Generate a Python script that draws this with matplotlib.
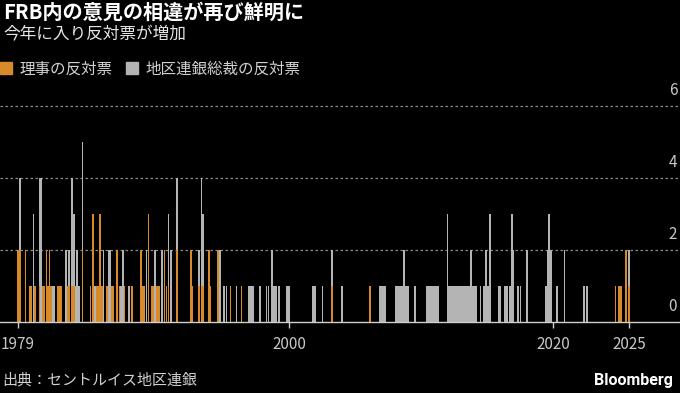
import matplotlib
matplotlib.use("Agg")
import matplotlib.pyplot as plt
from matplotlib.patches import Patch

plt.rcParams['font.family'] = ['Noto Sans CJK JP', 'DejaVu Sans']

# Meeting dates (decimal years), governor dissents, regional-bank-president dissents
dates = [
    1979.45, 1979.60, 1980.04, 1980.38, 1980.49, 1980.64, 1980.76,
    1981.12, 1981.24, 1981.36, 1981.48, 1981.63, 1981.75, 1981.87, 1981.99, 1982.11, 1982.20,
    1982.53, 1982.65, 1982.77, 1983.10,
    1983.25, 1983.36, 1983.55, 1983.72, 1983.84, 1983.96, 1984.08, 1984.36,
    1984.97, 1985.18, 1985.32, 1985.44, 1985.56, 1985.70, 1985.83, 1985.94,
    1986.22, 1986.34, 1986.46, 1986.58, 1986.70, 1986.98,
    1987.18, 1987.30, 1987.42, 1987.54, 1987.88, 1988.12,
    1988.79, 1988.94, 1989.06, 1989.20, 1989.36,
    1989.60, 1989.72, 1989.84, 1989.96, 1990.08, 1990.20, 1990.40, 1990.58, 1990.72, 1990.88, 1991.06,
    1991.52, 1992.58, 1992.70, 1993.18, 1993.38, 1993.50, 1993.94, 1994.06,
    1994.62, 1994.77, 1995.08, 1995.27, 1995.57, 1996.02, 1996.40,
    1996.97, 1997.12, 1997.27, 1997.80, 1998.30, 1998.45, 1998.71, 1998.86, 1999.00, 1999.24,
    1999.85, 2000.00, 2001.82, 2001.97, 2002.55, 2003.26, 2004.02, 2006.14,
    2006.92, 2007.05, 2007.18, 2007.31,
    2008.12, 2008.26, 2008.40, 2008.56, 2008.71, 2008.86, 2009.00, 2009.55,
    2010.47, 2010.59, 2010.71, 2010.83, 2010.95, 2011.07, 2011.19, 2011.31,
    2012.00, 2012.12, 2012.25, 2012.38, 2012.51, 2012.64, 2012.77, 2012.90,
    2013.03, 2013.16, 2013.29, 2013.42, 2013.55, 2013.68, 2013.80, 2013.94, 2014.07, 2014.20,
    2014.50, 2014.78, 2014.93, 2015.08, 2015.22, 2015.87, 2016.00, 2016.38, 2016.52,
    2016.74, 2016.88, 2017.00, 2017.36, 2017.54, 2018.04,
    2019.45, 2019.60, 2019.72, 2019.85, 2020.30, 2020.88, 2022.35, 2022.57,
    2024.73, 2024.98, 2025.14, 2025.55, 2025.75,
]
governors = [
    2, 2, 2, 1, 1, 0, 1,
    1, 0, 1, 1, 2, 1, 2, 1, 0, 0,
    1, 1, 1, 0,
    1, 1, 1, 1, 0, 0, 0, 2,
    1, 3, 0, 1, 1, 3, 1, 0,
    1, 0, 0, 1, 1, 2,
    1, 0, 0, 1, 0, 1,
    2, 1, 1, 0, 3,
    1, 1, 0, 1, 1, 1, 0, 2, 1, 1, 0,
    2, 2, 1, 1, 1, 1, 2, 1,
    2, 0, 0, 0, 1, 0, 1,
    0, 0, 0, 0, 0, 0, 0, 0, 0, 0,
    0, 0, 0, 0, 0, 1, 0, 1,
    0, 0, 0, 0,
    0, 0, 0, 0, 0, 0, 0, 0,
    0, 0, 0, 0, 0, 0, 0, 0,
    0, 0, 0, 0, 0, 0, 0, 0,
    0, 0, 0, 0, 0, 0, 0, 0, 0, 0,
    0, 0, 0, 0, 0, 0, 0, 0, 0,
    0, 0, 0, 0, 0, 0,
    0, 0, 0, 0, 0, 0, 0, 0,
    1, 1, 1, 2, 1,
]
presidents = [
    0, 2, 0, 0, 0, 3, 0,
    3, 4, 0, 0, 0, 0, 0, 0, 1, 1,
    0, 0, 0, 2,
    0, 1, 3, 2, 1, 2, 1, 3,
    0, 0, 1, 0, 0, 0, 0, 2,
    0, 2, 2, 0, 0, 0,
    0, 1, 2, 0, 1, 0,
    0, 0, 0, 2, 0,
    0, 0, 2, 0, 0, 0, 2, 0, 0, 2, 2,
    2, 0, 0, 1, 3, 2, 0, 0,
    0, 2, 1, 1, 0, 1, 0,
    1, 1, 1, 1, 1, 1, 2, 1, 1, 1,
    1, 1, 1, 1, 1, 1, 1, 0,
    1, 1, 1, 1,
    1, 1, 1, 1, 2, 1, 1, 1,
    1, 1, 1, 1, 1, 1, 1, 1,
    3, 1, 1, 1, 1, 1, 1, 1,
    1, 1, 1, 1, 1, 1, 2, 1, 1, 1,
    1, 1, 2, 1, 3, 1, 1, 1, 1,
    1, 3, 2, 1, 1, 2,
    1, 2, 3, 2, 1, 2, 1, 1,
    0, 0, 0, 0, 1,
]

x_ticks = [1979.47, 2000, 2020, 2025.78]
x_tick_labels = ['1979', '2000', '2020', '2025']
y_ticks = [0, 2, 4, 6]

title = 'FRB内の意見の相違が再び鮮明に'
subtitle = '今年に入り反対票が増加'
legend_labels = ['理事の反対票', '地区連銀総裁の反対票']
source = '出典：セントルイス地区連銀'

ORANGE = '#d8892a'
GRAY = '#b4b4b4'
BG = '#000000'

fig = plt.figure(figsize=(6.8, 3.93), dpi=100, facecolor=BG)
ax = fig.add_axes([0.0, 1 - 322 / 393, 1.0, (322 - 106) / 393], facecolor=BG)

width = 0.13
ax.bar(dates, governors, width=width, color=ORANGE, linewidth=0, align='center')
ax.bar(dates, presidents, width=width, bottom=governors, color=GRAY, linewidth=0, align='center')

ax.set_xlim(1978.11, 2029.62)
ax.set_ylim(0, 6)

for s in ['top', 'right', 'left']:
    ax.spines[s].set_visible(False)
ax.spines['bottom'].set_color('#cfcfcf')
ax.spines['bottom'].set_linewidth(1.0)

ax.set_yticks(y_ticks)
ax.set_yticklabels([])
ax.tick_params(axis='y', length=0)
for v in y_ticks:
    if v > 0:
        ax.axhline(v, color='#8a8a8a', linestyle=(0, (2, 2)), linewidth=0.9, zorder=0.5, clip_on=False)
    ax.annotate(str(v), xy=(1, v), xycoords=ax.get_yaxis_transform(),
                xytext=(-2, 5), textcoords='offset points', ha='right', va='bottom',
                color='#c8c8c8', fontsize=11)

ax.set_xticks(x_ticks)
ax.set_xticklabels(x_tick_labels, color='#c8c8c8', fontsize=11)
ax.tick_params(axis='x', length=4, width=1, color='#cfcfcf', pad=6)

fig.text(0.005, 1 - 12 / 393, title, color='white', fontsize=14.5, fontweight='bold', va='center', ha='left')
fig.text(0.005, 1 - 35 / 393, subtitle, color='#e6e6e6', fontsize=12, va='center', ha='left')

fig.legend(handles=[Patch(color=ORANGE, label=legend_labels[0]),
                    Patch(color=GRAY, label=legend_labels[1])],
           loc='center left', bbox_to_anchor=(0.0, 1 - 69 / 393), ncol=2, frameon=False,
           handlelength=0.75, handleheight=0.75, handletextpad=0.5, columnspacing=0.9,
           borderaxespad=0, borderpad=0, fontsize=11.2, labelcolor='#d0d0d0')

fig.text(0.003, 1 - 380 / 393, source, color='#d0d0d0', fontsize=10.8, va='center', ha='left')
fig.text(0.99, 1 - 380 / 393, 'Bloomberg', color='white', fontsize=11.5, fontweight='bold',
         va='center', ha='right', family=['Roboto', 'DejaVu Sans'])

fig.savefig('out.png', dpi=100, facecolor=BG)
